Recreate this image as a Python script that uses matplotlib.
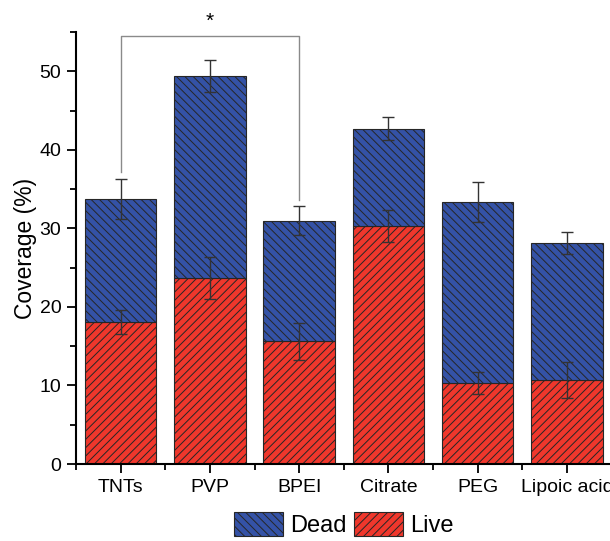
"""Stacked live/dead coverage bars with error bars."""

import matplotlib
matplotlib.use("Agg")
import matplotlib.pyplot as plt
from matplotlib.ticker import MultipleLocator

plt.rcParams["font.family"] = ["Liberation Sans", "DejaVu Sans"]
plt.rcParams["hatch.linewidth"] = 0.7

categories = ["TNTs", "PVP", "BPEI", "Citrate", "PEG", "Lipoic acid"]
live = [18.1, 23.7, 15.6, 30.3, 10.3, 10.7]
live_err = [1.5, 2.7, 2.3, 2.1, 1.45, 2.35]
total = [33.7, 49.4, 31.0, 42.7, 33.4, 28.1]
total_err = [2.55, 2.05, 1.9, 1.45, 2.55, 1.4]
dead = [t - l for t, l in zip(total, live)]

RED = "#F0372C"
BLUE = "#3452A6"
EDGE = "#262626"

fig = plt.figure(figsize=(6.10, 5.41), dpi=100)
ax = fig.add_axes([0.1246, 0.1423, 0.878, 0.7986])

x = list(range(len(categories)))
ax.bar(x, live, width=0.8, color=RED, edgecolor=EDGE, linewidth=0.8,
       hatch="////", label="Live", zorder=2)
ax.bar(x, dead, width=0.8, bottom=live, color=BLUE, edgecolor=EDGE,
       linewidth=0.8, hatch="\\\\\\\\", label="Dead", zorder=2)

ax.errorbar(x, live, yerr=live_err, fmt="none", ecolor="#333333",
            elinewidth=1.0, capsize=4, capthick=1.0, zorder=3)
ax.errorbar(x, total, yerr=total_err, fmt="none", ecolor="#333333",
            elinewidth=1.0, capsize=4, capthick=1.0, zorder=3)

# significance bracket TNTs vs BPEI
ax.plot([0, 0, 2, 2], [37.2, 54.5, 54.5, 33.6], color="#8a8a8a",
        linewidth=1.0, clip_on=False, zorder=1)
ax.text(1, 55.1, "*", ha="center", va="bottom", fontsize=15,
        clip_on=False)

ax.set_xlim(-0.5, 5.5)
ax.set_ylim(0, 55)
ax.set_xticks(x)
ax.set_xticklabels(categories)
ax.set_xticks([i + 0.5 for i in range(-1, 6)], minor=True)
ax.yaxis.set_major_locator(MultipleLocator(10))
ax.yaxis.set_minor_locator(MultipleLocator(5))
ax.tick_params(axis="both", which="major", direction="out", length=6.5,
               width=1.3, labelsize=14, pad=4)
ax.tick_params(axis="both", which="minor", direction="out", length=4,
               width=1.3)
ax.set_ylabel("Coverage (%)", fontsize=16.5, labelpad=2)

for side in ("top", "right"):
    ax.spines[side].set_visible(False)
for side in ("left", "bottom"):
    ax.spines[side].set_linewidth(1.5)

handles, labels = ax.get_legend_handles_labels()
ax.legend(handles[::-1], labels[::-1], loc="lower center",
          bbox_to_anchor=(0.50, -0.19), ncol=2, frameon=False,
          fontsize=17, handlelength=2.1, handleheight=1.2,
          handletextpad=0.3, columnspacing=0.3, borderaxespad=0)

fig.savefig("out.png", dpi=100)
